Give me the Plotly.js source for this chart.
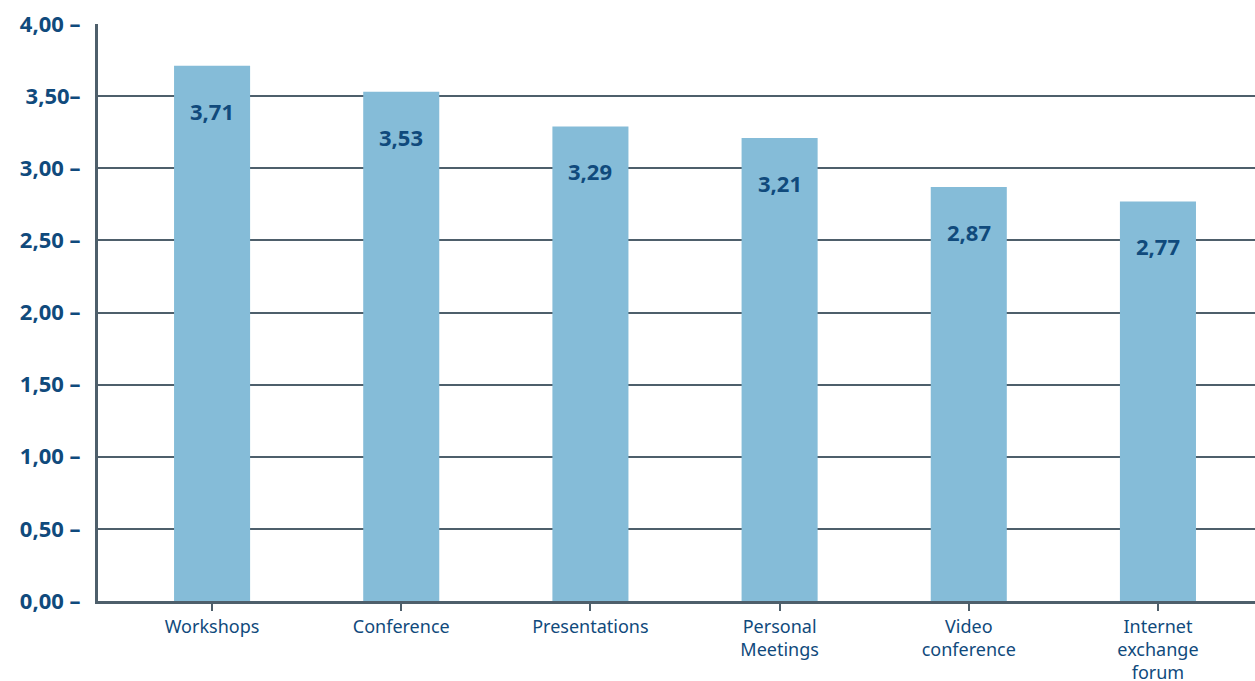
<!DOCTYPE html>
<html>
<head>
<meta charset="utf-8">
<script src="https://cdn.plot.ly/plotly-3.0.1.min.js"></script>
<style>html,body{margin:0;padding:0;background:#fff;}#chart{width:1255px;height:681px;}</style>
</head>
<body>
<div id="chart"></div>
<script>
const categories = ["Workshops", "Conference", "Presentations", "Personal<br>Meetings", "Video<br>conference", "Internet<br>exchange<br>forum"];
const values = [3.71, 3.53, 3.29, 3.21, 2.87, 2.77];
const valueLabels = ["3,71", "3,53", "3,29", "3,21", "2,87", "2,77"];
const yTicks = [0, 0.5, 1, 1.5, 2, 2.5, 3, 3.5, 4];
const yTickLabels = ["0,00 –", "0,50 –", "1,00 –", "1,50 –", "2,00 –", "2,50 –", "3,00 –", "3,50–", "4,00 –"];

const textColor = "#104a7c";
const lineColor = "#4e5f6b";
const font = "Noto Sans, Open Sans, sans-serif";

const trace = {
  type: "bar",
  x: categories.map((c, i) => i),
  y: values,
  marker: {color: "#85bcd8", line: {width: 0}},
  hoverinfo: "skip"
};

const annotations = values.map((v, i) => ({
  x: i, y: v, xref: "x", yref: "y",
  text: valueLabels[i], showarrow: false,
  yanchor: "top", yshift: -28,
  font: {family: font, size: 22, color: textColor, weight: 700}
}));

const layout = {
  width: 1255, height: 681,
  margin: {l: 98, r: 0, t: 24, b: 80},
  paper_bgcolor: "#fff", plot_bgcolor: "#fff",
  showlegend: false,
  bargap: 0.598,
  xaxis: {
    range: [-0.603, 5.513],
    tickmode: "array",
    tickvals: categories.map((c, i) => i),
    ticktext: categories,
    ticks: "outside", ticklen: 7, tickwidth: 2, tickcolor: lineColor,
    showline: true, linecolor: lineColor, linewidth: 3,
    showgrid: false, zeroline: false,
    tickfont: {family: font, size: 18, color: textColor}
  },
  yaxis: {
    range: [0, 4],
    tickmode: "array",
    tickvals: yTicks,
    ticktext: yTickLabels,
    ticks: "", ticklabelstandoff: 10,
    showline: true, linecolor: lineColor, linewidth: 3,
    showgrid: true, gridcolor: lineColor, gridwidth: 2,
    zeroline: false,
    tickfont: {family: font, size: 22, color: textColor, weight: 700}
  },
  annotations: annotations
};

Plotly.newPlot("chart", [trace], layout, {displayModeBar: false, staticPlot: true});
</script>
</body>
</html>
